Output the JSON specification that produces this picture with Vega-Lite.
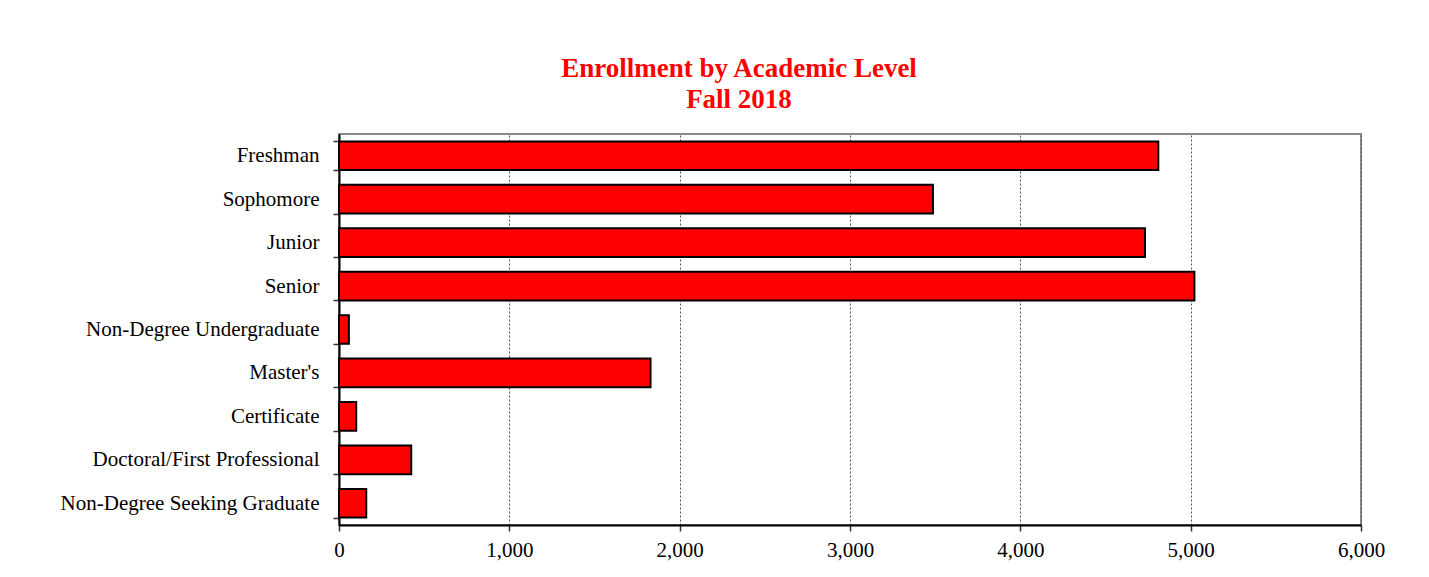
{
  "$schema": "https://vega.github.io/schema/vega-lite/v6.json",
  "autosize": "none",
  "padding": {"left": 339, "top": 134, "right": 68, "bottom": 52},
  "width": 1022,
  "height": 391,
  "background": "white",
  "title": {
    "text": ["Enrollment by Academic Level", "Fall 2018"],
    "font": "Liberation Serif",
    "fontSize": 27,
    "fontWeight": "bold",
    "color": "#FF0000",
    "anchor": "middle",
    "frame": "group",
    "lineHeight": 31.5,
    "dx": -111,
    "offset": 9
  },
  "data": {
    "values": [
      {"level": "Freshman", "count": 4810},
      {"level": "Sophomore", "count": 3487},
      {"level": "Junior", "count": 4732},
      {"level": "Senior", "count": 5022},
      {"level": "Non-Degree Undergraduate", "count": 58},
      {"level": "Master's", "count": 1829},
      {"level": "Certificate", "count": 101},
      {"level": "Doctoral/First Professional", "count": 424},
      {"level": "Non-Degree Seeking Graduate", "count": 160}
    ]
  },
  "mark": {"type": "bar", "fill": "#FF0000", "stroke": "#000000", "strokeWidth": 2},
  "encoding": {
    "y": {
      "field": "level",
      "type": "nominal",
      "sort": null,
      "scale": {"paddingInner": 0.34, "paddingOuter": 0.17},
      "axis": {
        "title": null,
        "labelFont": "Liberation Serif",
        "labelFontSize": 21,
        "labelColor": "#000000",
        "labelPadding": 14,
        "labelLimit": 0,
        "tickBand": "extent",
        "tickSize": 6,
        "tickColor": "#333333",
        "tickWidth": 1.5,
        "domainColor": "#000000",
        "domainWidth": 2,
        "grid": false
      }
    },
    "x": {
      "field": "count",
      "type": "quantitative",
      "scale": {"domain": [0, 6000], "nice": false},
      "axis": {
        "title": null,
        "values": [0, 1000, 2000, 3000, 4000, 5000, 6000],
        "format": ",d",
        "labelFont": "Liberation Serif",
        "labelFontSize": 21,
        "labelColor": "#000000",
        "labelPadding": 8,
        "labelFlush": false,
        "labelOverlap": false,
        "tickSize": 6,
        "tickColor": "#333333",
        "tickWidth": 1.5,
        "domainColor": "#000000",
        "domainWidth": 2,
        "grid": true,
        "gridColor": "#555555",
        "gridDash": [2, 2],
        "gridWidth": 1
      }
    }
  },
  "config": {
    "view": {"stroke": "#888888", "strokeWidth": 2}
  }
}
